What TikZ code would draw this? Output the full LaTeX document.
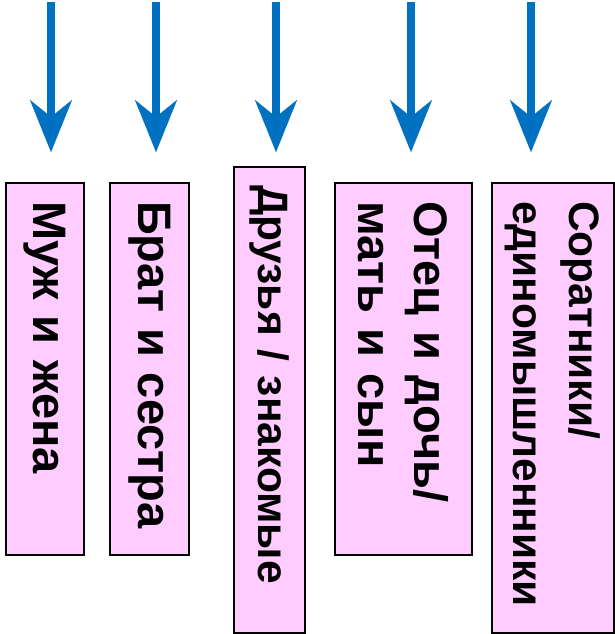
\documentclass[tikz,border=0pt]{standalone}
\usepackage{fontspec}
\setmainfont{Liberation Sans}
\usetikzlibrary{arrows.meta}
\definecolor{arrblue}{HTML}{0070C0}
\definecolor{boxpink}{HTML}{FFCCFF}
\newcommand\lblfont[1]{\bfseries\fontsize{#1}{56}\selectfont}
\begin{document}
\begin{tikzpicture}[x=1pt,y=-1pt,
  lbl/.style={draw=black, line width=1.5pt, fill=boxpink, rotate=-90,
    align=left, inner xsep=18pt, inner ysep=0pt, anchor=center},
  arr/.style={draw=arrblue, line width=8pt,
    -{Stealth[length=52pt,width=42pt,inset=17pt,line width=0.01pt]}}]
\useasboundingbox (0,0) rectangle (615,634);
\node[lbl, font=\lblfont{47}, text width=336pt, minimum height=78pt] (b1) at (45,369) {Муж и жена};
\node[lbl, font=\lblfont{47}, text width=336pt, minimum height=79pt] (b2) at (149.5,369) {Брат и сестра};
\node[lbl, font=\lblfont{42.5}, text width=430pt, minimum height=71pt] (b3) at (269.5,400) {Друзья / знакомые};
\node[lbl, font=\lblfont{47}, text width=336pt, minimum height=137pt] (b4) at (403.5,369) {Отец и дочь/\\мать и сын};
\node[lbl, font=\lblfont{42.5}, text width=414pt, minimum height=122pt] (b5) at (553,408) {Соратники/\\единомышленники};
\foreach \i/\x in {1/51,2/156,3/276,4/411,5/531}{
  \coordinate (s\i) at (\x,2);
  \coordinate (e\i) at (\x,152);
  \draw[arr] (s\i) -- (e\i);
}
\end{tikzpicture}
\end{document}
